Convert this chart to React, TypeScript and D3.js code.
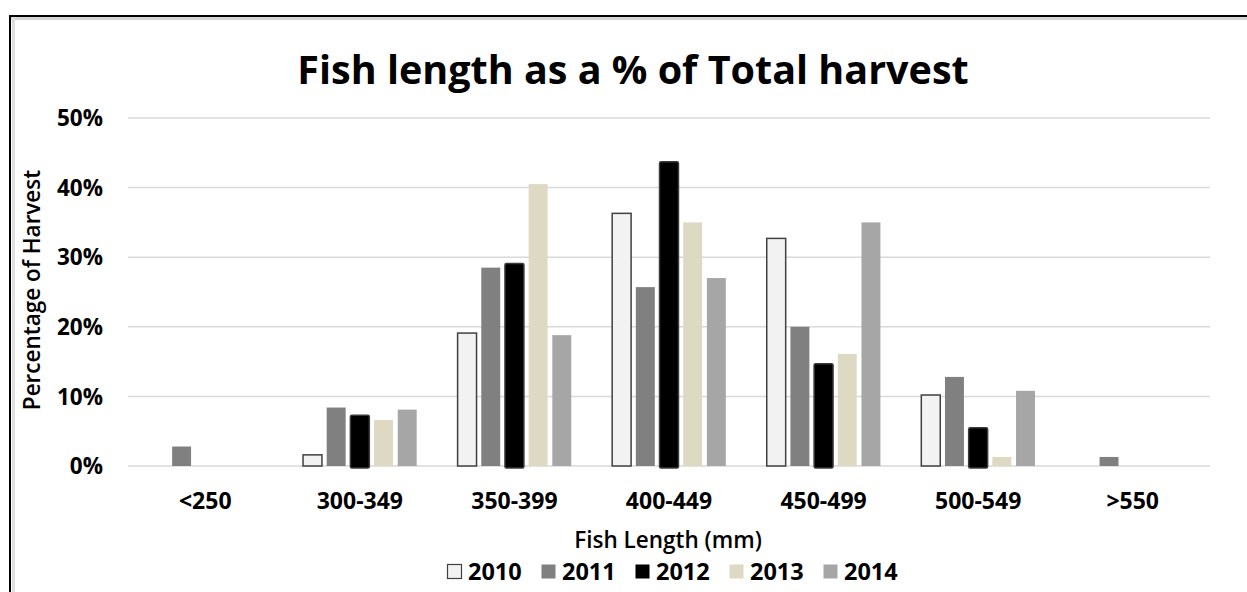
import React, { useEffect, useRef } from 'react';
import * as d3 from 'd3';

const categories = ['<250', '300-349', '350-399', '400-449', '450-499', '500-549', '>550'];
const years = ['2010', '2011', '2012', '2013', '2014'];

// percent of harvest per length class
const v2010 = [0, 1.6, 19.1, 36.3, 32.7, 10.2, 0];
const v2011 = [2.8, 8.4, 28.5, 25.7, 20.0, 12.8, 1.3];
const v2012 = [0, 7.3, 29.1, 43.7, 14.7, 5.5, 0];
const v2013 = [0, 6.6, 40.5, 35.0, 16.1, 1.3, 0];
const v2014 = [0, 8.1, 18.8, 27.0, 35.0, 10.8, 0];

const yTicks = [0, 10, 20, 30, 40, 50];

const series = [v2010, v2011, v2012, v2013, v2014];

const fills: any = { '2010': '#f2f2f2', '2011': '#808080', '2012': '#000000', '2013': '#ddd9c3', '2014': '#a6a6a6' };
const strokes: any = { '2010': '#404040', '2012': '#3a3a3a' };

const FONT = "'Open Sans', 'DejaVu Sans', sans-serif";

function App() {
  const ref = useRef<SVGSVGElement>(null);

  useEffect(() => {
    const width = 1247;
    const height = 592;
    const margin = { top: 118, right: 37, bottom: 126, left: 128 };

    const svg = d3.select(ref.current);
    svg.selectAll('*').remove();

    const rows = categories.map((c, i) => ({
      cat: c,
      vals: years.map((yr, j) => ({ year: yr, value: series[j][i] })),
    }));

    const x0 = d3
      .scaleBand()
      .domain(categories)
      .range([margin.left, width - margin.right])
      .paddingInner(0.234)
      .paddingOuter(0.117);

    const x1 = d3
      .scaleBand()
      .domain(years)
      .range([0, x0.bandwidth()])
      .paddingInner(0.2)
      .paddingOuter(0.1);

    const y = d3
      .scaleLinear()
      .domain([0, 50])
      .range([height - margin.bottom, margin.top]);

    // frame
    svg.append('rect').attr('x', 0).attr('y', 0).attr('width', width).attr('height', height).attr('fill', '#fff');
    svg.append('line').attr('x1', 9).attr('x2', width).attr('y1', 18.5).attr('y2', 18.5).attr('stroke', '#d4d4d4').attr('stroke-width', 3);
    svg.append('line').attr('x1', 13.5).attr('x2', 13.5).attr('y1', 16).attr('y2', height).attr('stroke', '#e0e0e0').attr('stroke-width', 3);
    svg.append('line').attr('x1', 9).attr('x2', width).attr('y1', 16).attr('y2', 16).attr('stroke', '#000').attr('stroke-width', 2);
    svg.append('line').attr('x1', 10).attr('x2', 10).attr('y1', 15).attr('y2', height).attr('stroke', '#000').attr('stroke-width', 2);

    // title
    svg
      .append('text')
      .attr('x', 633)
      .attr('y', 84)
      .attr('text-anchor', 'middle')
      .attr('font-family', FONT)
      .attr('font-weight', 'bold')
      .attr('font-size', 39.5)
      .attr('fill', '#000')
      .text('Fish length as a % of Total harvest');

    // grid + y labels
    const grid = svg.append('g');
    grid
      .selectAll('line')
      .data(yTicks)
      .join('line')
      .attr('x1', margin.left)
      .attr('x2', width - margin.right)
      .attr('y1', (d) => y(d))
      .attr('y2', (d) => y(d))
      .attr('stroke', '#d9d9d9')
      .attr('stroke-width', 1.5);

    svg
      .append('g')
      .selectAll('text')
      .data(yTicks)
      .join('text')
      .attr('x', 103)
      .attr('y', (d) => y(d))
      .attr('dy', '0.36em')
      .attr('text-anchor', 'end')
      .attr('font-family', FONT)
      .attr('font-weight', 'bold')
      .attr('font-size', 22.5)
      .attr('fill', '#000')
      .text((d) => d + '%');

    // bars
    const groups = svg
      .append('g')
      .selectAll('g')
      .data(rows)
      .join('g')
      .attr('transform', (d) => `translate(${x0(d.cat)},0)`);

    groups
      .selectAll('rect')
      .data((d) => d.vals.filter((v) => v.value > 0))
      .join('rect')
      .attr('x', (d) => x1(d.year) as number)
      .attr('width', x1.bandwidth())
      .attr('y', (d) => y(d.value))
      .attr('height', (d) => y(0) - y(d.value) + (d.year === '2012' ? 2 : 0))
      .attr('rx', (d) => (d.year === '2012' ? 1.5 : 0))
      .attr('fill', (d) => fills[d.year])
      .attr('stroke', (d) => strokes[d.year] || 'none')
      .attr('stroke-width', 1.5);

    // x labels
    svg
      .append('g')
      .selectAll('text')
      .data(categories)
      .join('text')
      .attr('x', (d) => (x0(d) as number) + x0.bandwidth() / 2)
      .attr('y', 509)
      .attr('text-anchor', 'middle')
      .attr('font-family', FONT)
      .attr('font-weight', 'bold')
      .attr('font-size', 23)
      .attr('fill', '#000')
      .text((d) => d);

    // axis titles
    svg
      .append('text')
      .attr('x', 668)
      .attr('y', 548)
      .attr('text-anchor', 'middle')
      .attr('font-family', FONT)
      .attr('font-weight', 600)
      .attr('font-size', 22.5)
      .attr('fill', '#000')
      .text('Fish Length (mm)');

    svg
      .append('text')
      .attr('transform', 'translate(40,290) rotate(-90)')
      .attr('text-anchor', 'middle')
      .attr('font-family', FONT)
      .attr('font-weight', 600)
      .attr('font-size', 22.5)
      .attr('fill', '#000')
      .text('Percentage of Harvest');

    // legend
    const legend = svg
      .append('g')
      .selectAll('g')
      .data(years)
      .join('g')
      .attr('transform', (d, i) => `translate(${447 + i * 94},564)`);

    legend
      .append('rect')
      .attr('x', 0.5)
      .attr('y', 0.5)
      .attr('width', 14)
      .attr('height', 14)
      .attr('fill', (d) => fills[d])
      .attr('stroke', (d) => (d === '2010' ? '#404040' : 'none'))
      .attr('stroke-width', 1.2);

    legend
      .append('text')
      .attr('x', 21)
      .attr('y', 16)
      .attr('font-family', FONT)
      .attr('font-weight', 'bold')
      .attr('font-size', 23.5)
      .attr('fill', '#000')
      .text((d) => d);
  }, []);

  return (
    <svg
      ref={ref}
      width={1247}
      height={592}
      style={{ position: 'absolute', left: 0, top: 0, display: 'block' }}
    />
  );
}

export default App;
